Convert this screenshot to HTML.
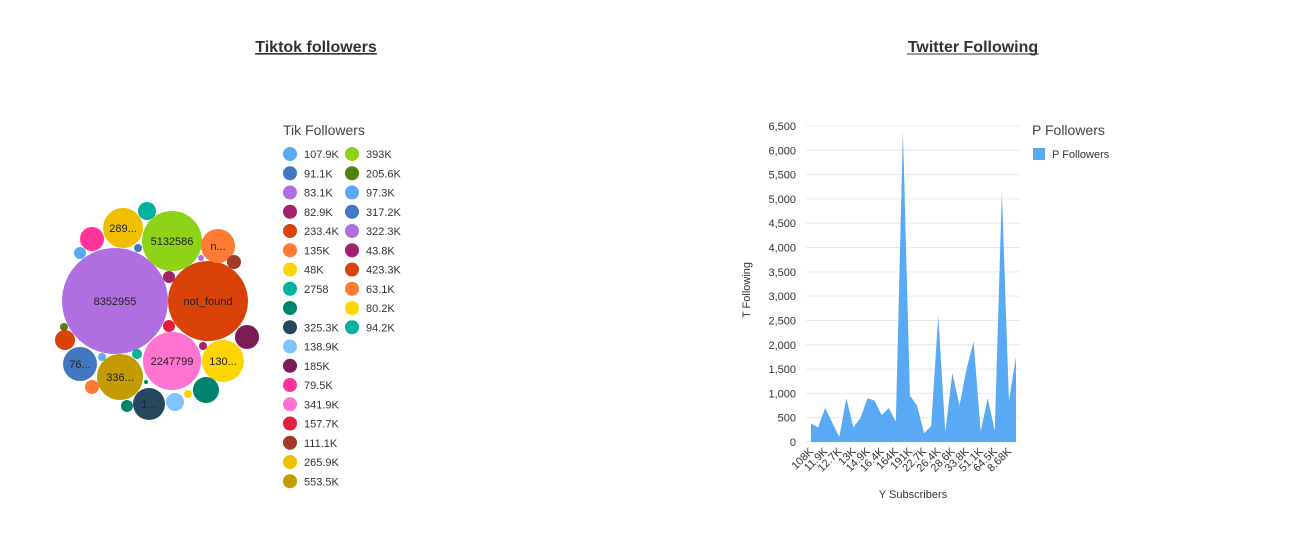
<!DOCTYPE html>
<html><head><meta charset="utf-8"><style>
body{margin:0;background:#fff;width:1290px;height:544px;overflow:hidden;font-family:"Liberation Sans",sans-serif}
svg{position:absolute;left:0;top:0}
</style></head><body>
<svg width="1290" height="544" id="s">
<text x="316" y="52" text-anchor="middle" font-size="16" font-weight="bold" fill="#333" text-decoration="underline">Tiktok followers</text>
<line x1="255" y1="54" x2="377" y2="54" stroke="#333" stroke-width="1"/>
<text x="973" y="52" text-anchor="middle" font-size="16" font-weight="bold" fill="#333">Twitter Following</text>
<line x1="907" y1="54" x2="1039" y2="54" stroke="#333" stroke-width="1"/>
<g id="bub"></g>
<g id="leg"><text x="283" y="135" font-size="14" fill="#444">Tik Followers</text></g>
<g id="area"></g>
<text x="1032" y="135" font-size="14" fill="#444">P Followers</text>
<rect x="1033" y="148" width="12" height="12" fill="#5aa9f5"/>
<text x="1052" y="158" font-size="11" fill="#333">P Followers</text>
</svg>
<script>
const NS="http://www.w3.org/2000/svg";
function mk(t,a,p){const e=document.createElementNS(NS,t);for(const k in a)e.setAttribute(k,a[k]);p.appendChild(e);return e;}
// bubble data
const bubLabels=["8352955","not_found","5132586","2247799","289...","n...","130...","336...","76...","1...","","","","","","","","","","","","","","","","","","","",""];
const bubSizes=[53,40,30,29,20,17,21,23,17,16,12,9,6,4,3,7,6,6,12,4,10,4,5,4,7,13,4,9,2,6];
const bubColors=["#b06fe0","#d94209","#8ed317","#ff73d1","#f0bf00","#ff7a33","#ffd500","#c29c00","#4178c0","#25485f","#ff3399","#00b39c","#5aa9f5","#4178c0","#b06fe0","#a23a28","#a0236b","#e61e3c","#7c1c56","#4e8209","#d94209","#a0236b","#00b39c","#5aa9f5","#ff7a33","#00846e","#ffd500","#80c4ff","#00846e","#00846e"];
const packX=[115,208,172,172,123,218,223,120,80,149,92,147,80,138,201,234,169,169,247,64,65,203,137,102,92,206,188,175,146,127];
const packY=[301,301,241,361,228,246,361,377,364,404,239,211,253,248,258,262,277,326,337,327,340,346,354,357,387,390,394,402,382,406];
const bub=document.getElementById('bub');
bubSizes.forEach((r,i)=>{
 const c=mk('circle',{cx:packX[i],cy:packY[i],r:r,fill:bubColors[i]},bub);
 
 
 if(bubLabels[i]){const t=mk('text',{x:packX[i],y:packY[i]+4,'text-anchor':'middle','font-size':11,fill:'#222'},bub);t.textContent=bubLabels[i];
 
 }
});
const legLabels=["107.9K","91.1K","83.1K","82.9K","233.4K","135K","48K","2758","","325.3K","138.9K","185K","79.5K","341.9K","157.7K","111.1K","265.9K","553.5K","393K","205.6K","97.3K","317.2K","322.3K","43.8K","423.3K","63.1K","80.2K","94.2K"];
const legColors=["#5aa9f5","#4178c0","#b06fe0","#a0236b","#d94209","#ff7a33","#ffd500","#00b39c","#00846e","#25485f","#80c4ff","#7c1c56","#ff3399","#ff73d1","#e61e3c","#a23a28","#f0bf00","#c29c00","#8ed317","#4e8209","#5aa9f5","#4178c0","#b06fe0","#a0236b","#d94209","#ff7a33","#ffd500","#00b39c"];
const leg=document.getElementById('leg');
legLabels.forEach((l,i)=>{
 const col=i<18?0:1,row=i<18?i:i-18;
 const y=154+row*19.25,x=290+col*62;
 const c=mk('circle',{cx:x,cy:y,r:7,fill:legColors[i]},leg);
 
 
 const t=mk('text',{x:x+14,y:y+4,'font-size':11,fill:'#333'},leg);t.textContent=l;
 
 
});
// area data
const xCats=["108K","a","11.9K","b","12.7K","c","13K","d","14.9K","e","16.4K","f","164K","g","191K","h","22.7K","i","26.4K","j","28.6K","k","33.8K","l","51.1K","m","64.5K","n","8.68K","o"];
const yVals=[380,300,700,400,100,900,300,500,900,850,550,700,420,6400,950,750,180,330,2600,200,1420,750,1500,2070,220,900,230,5150,850,1750];
const yTicks=[0,500,1000,1500,2000,2500,3000,3500,4000,4500,5000,5500,6000,6500];
const X0=811,X1=1016,Y0=442,Y1=126,YMAX=6500;
const sx=i=>X0+i*(X1-X0)/(xCats.length-1);
const sy=v=>Y0-v/YMAX*(Y0-Y1);
const ar=document.getElementById('area');
yTicks.forEach(v=>{
 const l=mk('line',{x1:806,x2:1020,y1:sy(v),y2:sy(v),stroke:'#e6ecee'},ar);
 
 
 const t=mk('text',{x:796,y:sy(v)+4,'text-anchor':'end','font-size':11,fill:'#333'},ar);t.textContent=v.toLocaleString('en-US');
 
 
});
let d='M'+sx(0)+','+Y0;
yVals.forEach((v,i)=>{d+=' L'+sx(i)+','+sy(v);});
d+=' L'+sx(yVals.length-1)+','+Y0+' Z';
const p=mk('path',{d:d,fill:'#5aa9f5'},ar);


xCats.forEach((c,i)=>{
 if(i%2)return;
 const x=sx(i)+3,y=452;
 const t=mk('text',{x:x,y:y,'text-anchor':'end','font-size':11,fill:'#333',transform:`rotate(-45 ${x} ${y})`},ar);t.textContent=c;
 
 
});
const xt=mk('text',{x:913,y:498,'text-anchor':'middle','font-size':11,fill:'#333'},ar);xt.textContent='Y Subscribers';


const yt=mk('text',{x:750,y:290,'text-anchor':'middle','font-size':11,fill:'#333',transform:'rotate(-90 750 290)'},ar);yt.textContent='T Following';


</script>
</body></html>
